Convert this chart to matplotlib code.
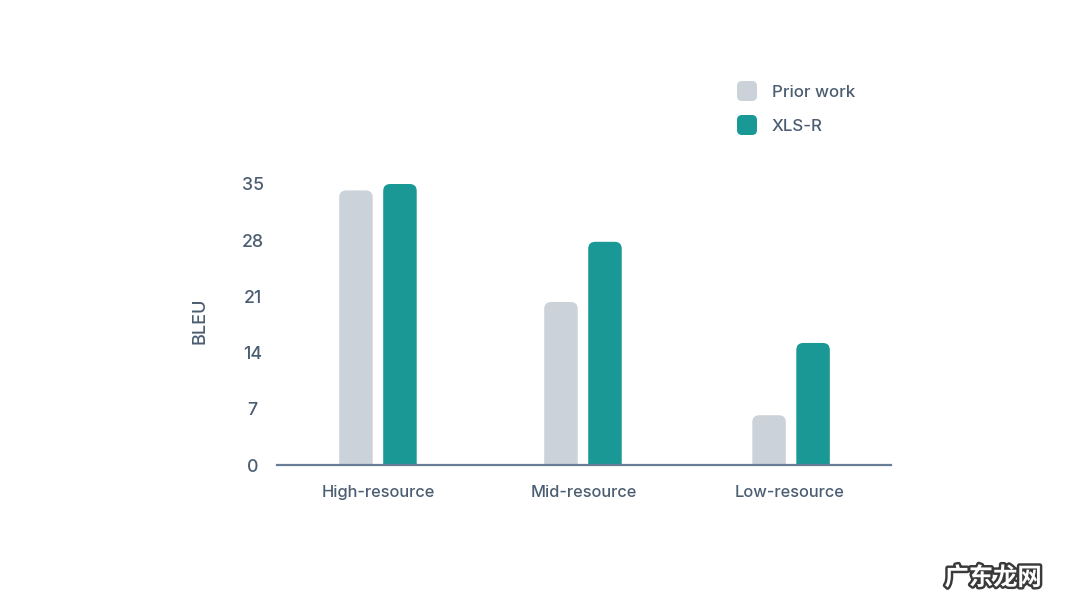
import matplotlib
matplotlib.use('Agg')
import matplotlib.pyplot as plt
import matplotlib.patheffects as pe
from matplotlib.patches import FancyBboxPatch, PathPatch
from matplotlib.path import Path

plt.rcParams['font.family'] = ['Inter', 'DejaVu Sans']

#=============================================
#   DATA
#=============================================

categories = ['High-resource', 'Mid-resource', 'Low-resource']
prior_work = [34.2, 20.3, 6.2]
xls_r = [35.0, 27.8, 15.2]
y_ticks = [0, 7, 14, 21, 28, 35]
series_names = ['Prior work', 'XLS-R']

GREY = '#cbd2da'
TEAL = '#199896'
TEXT = '#4b5d70'
AXIS = '#6a7d96'

W, H = 1080, 608
AX_LEFT, AX_RIGHT = 277, 891
AX_BOTTOM, AX_TOP = 465, 184
group_x = [0, 0.995, 2.005]  # the groups are not quite evenly spaced in the original


def rounded_bar(ax, x, width, value, color, r_px=7):
    """Bar with rounded top corners only, radius given in pixels."""
    rx = r_px * (ax.get_xlim()[1] - ax.get_xlim()[0]) / (AX_RIGHT - AX_LEFT)
    ry = r_px * (ax.get_ylim()[1] - ax.get_ylim()[0]) / (AX_BOTTOM - AX_TOP)
    l, r = x - width / 2, x + width / 2
    verts = [(l, 0), (l, value - ry), (l, value), (l + rx, value),
             (r - rx, value), (r, value), (r, value - ry), (r, 0), (l, 0)]
    codes = [Path.MOVETO, Path.LINETO, Path.CURVE3, Path.CURVE3,
             Path.LINETO, Path.CURVE3, Path.CURVE3, Path.LINETO, Path.CLOSEPOLY]
    ax.add_patch(PathPatch(Path(verts, codes), facecolor=color, edgecolor='none', zorder=2))


fig = plt.figure(figsize=(W / 100, H / 100), dpi=100)
ax = fig.add_axes([AX_LEFT / W, 1 - AX_BOTTOM / H,
                   (AX_RIGHT - AX_LEFT) / W, (AX_BOTTOM - AX_TOP) / H])
ax.set_xlim(-0.49, 2.49)
ax.set_ylim(0, 35)

bar_w = 33.5 / 206
offset = 22 / 206
for i in range(len(categories)):
    rounded_bar(ax, group_x[i] - offset, bar_w, prior_work[i], GREY)
    rounded_bar(ax, group_x[i] + offset, bar_w, xls_r[i], TEAL)

for side in ['top', 'right', 'left']:
    ax.spines[side].set_visible(False)
ax.spines['bottom'].set_color(AXIS)
ax.spines['bottom'].set_linewidth(1.6)
ax.spines['bottom'].set_zorder(3)

ax.set_xticks(range(len(categories)))
ax.set_xticklabels(categories, fontsize=11.8, fontweight='medium')
ax.set_yticks(y_ticks)
ax.set_yticklabels(y_ticks, fontsize=12.8, fontweight='medium', ha='center')
ax.tick_params(axis='both', length=0, labelcolor=TEXT)
ax.tick_params(axis='x', pad=14.3)
ax.tick_params(axis='y', pad=17.5)
ax.set_ylabel('BLEU', fontsize=13, fontweight='medium', color=TEXT)
ax.yaxis.set_label_coords((209 - AX_LEFT) / (AX_RIGHT - AX_LEFT),
                          (AX_BOTTOM - 321) / (AX_BOTTOM - AX_TOP))

# Legend, drawn by hand so the swatches keep their rounded corners
for (name, color, cy) in zip(series_names, [GREY, TEAL], [91, 125]):
    fig.add_artist(FancyBboxPatch((737 / 100, (H - cy - 10) / 100), 0.2, 0.2,
                                  boxstyle='round,pad=0,rounding_size=0.05',
                                  transform=fig.dpi_scale_trans,
                                  facecolor=color, edgecolor='none'))
    fig.text(772 / W, 1 - (cy + 1.2) / H, name, fontsize=12.2, fontweight='medium',
             color=TEXT, va='center', ha='left')

# Watermark in the bottom right corner
fig.text(993 / W, 1 - 578 / H, '广东龙网', fontsize=17.5, fontweight='bold',
         family=['Noto Sans CJK SC', 'DejaVu Sans'], color='white', ha='center', va='center',
         path_effects=[pe.withStroke(linewidth=3.5, foreground='#3a3a3a')])

fig.savefig('out.png', dpi=100, facecolor='white')
